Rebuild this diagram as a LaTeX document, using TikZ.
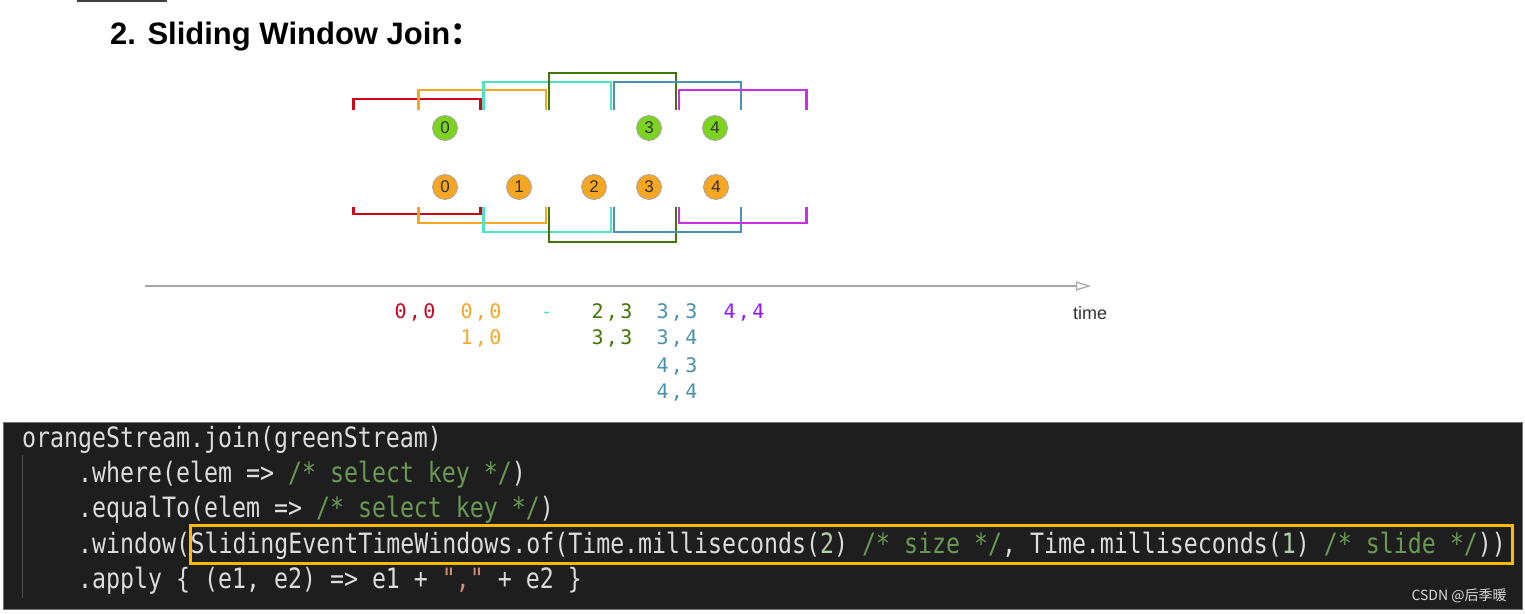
\documentclass[tikz,border=0pt]{standalone}
\usepackage{fontspec}
\setmainfont{Liberation Sans}
\newfontfamily\codefont[FakeStretch=0.83]{DejaVu Sans Mono}
\newfontfamily\resfont[LetterSpace=12]{DejaVu Sans Mono}
\newfontfamily\cjk{Noto Sans CJK SC}
\usetikzlibrary{arrows.meta}
\definecolor{wred}{HTML}{D0021B}
\definecolor{worange}{HTML}{F5A623}
\definecolor{wcyan}{HTML}{50E3C2}
\definecolor{wgreen}{HTML}{417505}
\definecolor{wblue}{HTML}{4A90B0}
\definecolor{wmag}{HTML}{CC2EE6}
\definecolor{wpurple}{HTML}{9013FE}
\definecolor{cgreen}{HTML}{7ED321}
\definecolor{codebg}{HTML}{1E1E1E}
\definecolor{codefg}{HTML}{DCDCDC}
\definecolor{cmt}{HTML}{6A9955}
\definecolor{num}{HTML}{B5CEA8}
\definecolor{str}{HTML}{CE9178}
\definecolor{hlc}{HTML}{FFB900}
\begin{document}
\begin{tikzpicture}[x=1pt,y=-1pt,
  win/.style={line width=2.6pt, line cap=butt, line join=miter},
  ev/.style={circle, draw=black!35, line width=0.8pt, minimum size=25pt, inner sep=0pt,
             font=\fontsize{17}{17}\selectfont, text=black!80},
  res/.style={inner sep=0pt, anchor=base, font=\resfont\fontsize{20}{20}\selectfont},
  code/.style={inner sep=0pt, anchor=base west, text=codefg, font=\codefont\fontsize{28}{30}\selectfont},
  axis/.style={draw=black!35, line width=1.2pt}
]
\useasboundingbox (0,0) rectangle (1525,613);
% small top line
\coordinate (tl1) at (77,1); \coordinate (tl2) at (167,1);
\draw[black!75, line width=2pt] (tl1) -- (tl2);
% title
\node[anchor=base west, inner sep=0pt, font=\bfseries\fontsize{31}{31}\selectfont] (title) at (110,44)
  {2. Sliding Window Join{\cjk ：}};

% window x positions
\foreach \n/\v in {0/352,1/417.1,2/482.2,3/547.3,4/612.4,5/677.5,6/742.6,7/807.7}{
  \coordinate (X\n) at (\v,0);
}
% top windows: color / left index / right index / top y
\foreach \c/\a/\b/\h in {wred/0/2/99, worange/1/3/90, wcyan/2/4/82, wgreen/3/5/73, wblue/4/6/82, wmag/5/7/90}{
  \draw[win, \c] ([xshift=1.5pt]X\a |- 0,110) -- ([xshift=1.5pt]X\a |- 0,\h) -- ([xshift=-1.5pt]X\b |- 0,\h) -- ([xshift=-1.5pt]X\b |- 0,110);
}
% bottom windows
\foreach \c/\a/\b/\h in {wred/0/2/214, worange/1/3/223, wcyan/2/4/232, wgreen/3/5/242, wblue/4/6/232, wmag/5/7/223}{
  \draw[win, \c] ([xshift=1.5pt]X\a |- 0,207) -- ([xshift=1.5pt]X\a |- 0,\h) -- ([xshift=-1.5pt]X\b |- 0,\h) -- ([xshift=-1.5pt]X\b |- 0,207);
}
% green stream elements
\node[ev, fill=cgreen] (g0) at (445,128) {0};
\node[ev, fill=cgreen] (g3) at (649,128) {3};
\node[ev, fill=cgreen] (g4) at (715,128) {4};
% orange stream elements
\node[ev, fill=worange] (o0) at (445,187) {0};
\node[ev, fill=worange] (o1) at (519,187) {1};
\node[ev, fill=worange] (o2) at (594,187) {2};
\node[ev, fill=worange] (o3) at (649,187) {3};
\node[ev, fill=worange] (o4) at (716,187) {4};

% time axis
\coordinate (ax0) at (145,286);
\coordinate (ax1) at (1091,286);
\draw[axis, -{Triangle[open, length=15pt, width=9pt]}] (ax0) -- (ax1);
\node[inner sep=0pt, text=black!80, font=\fontsize{18}{18}\selectfont] (time) at (1090,313) {time};

% results
\node[res, text=wred]    (r1)  at (415,318.5) {0,0};
\node[res, text=worange] (r2a) at (481,318.5) {0,0};
\node[res, text=worange] (r2b) at (481,344.5) {1,0};
\node[res, text=wcyan]   (r3)  at (547,318.5) {-};
\node[res, text=wgreen]  (r4a) at (612,318.5) {2,3};
\node[res, text=wgreen]  (r4b) at (612,344.5) {3,3};
\node[res, text=wblue]   (r5a) at (677,318.5) {3,3};
\node[res, text=wblue]   (r5b) at (677,344.5) {3,4};
\node[res, text=wblue]   (r5c) at (677,372.5) {4,3};
\node[res, text=wblue]   (r5d) at (677,398.5) {4,4};
\node[res, text=wpurple] (r6)  at (744,318.5) {4,4};

% code box
\node[draw=black!55, line width=0.8pt, fill=codebg, minimum width=1519pt, minimum height=187pt, inner sep=0pt] (codebox) at (762.5,515.5) {};
\coordinate (ig0) at (22,455); \coordinate (ig1) at (22,598);
\draw[black!70, line width=1pt] (ig0) -- (ig1);
\node[code] (c1) at (22,447) {orangeStream.join(greenStream)};
\node[code] (c2) at (78,482) {.where(elem => \textcolor{cmt}{/* select key */})};
\node[code] (c3) at (78,517) {.equalTo(elem => \textcolor{cmt}{/* select key */})};
\node[code] (c4a) at (78,553) {.window(};
\node[code] (c4b) at (c4a.base east) {SlidingEventTimeWindows.of(Time.milliseconds(\textcolor{num}{2}) \textcolor{cmt}{/* size */}, Time.milliseconds(\textcolor{num}{1}) \textcolor{cmt}{/* slide */}))};
\node[code] (c5) at (78,588) {.apply \{ (e1, e2) => e1 + \textcolor{str}{","} + e2 \}};
\node[draw=hlc, line width=3pt, minimum width=1322pt, minimum height=38pt, inner sep=0pt] (hl) at (851,544) {};
\node[inner sep=0pt, text=black!15, font=\cjk\fontsize{14}{14}\selectfont] (csdn) at (1459,596) {CSDN @后季暖};
\end{tikzpicture}
\end{document}
